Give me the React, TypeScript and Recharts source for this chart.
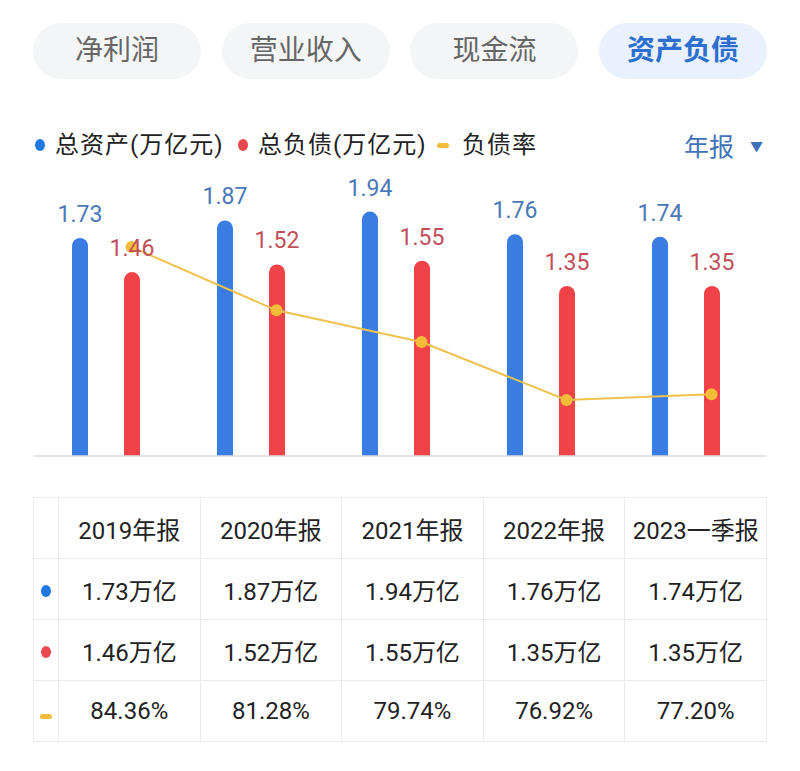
import { ComposedChart, Bar, Line, XAxis, YAxis, LabelList } from 'recharts'

const tabs = ['净利润', '营业收入', '现金流', '资产负债']
const periods = ['2019年报', '2020年报', '2021年报', '2022年报', '2023一季报']
const totalAssets = [1.73, 1.87, 1.94, 1.76, 1.74]
const totalDebt = [1.46, 1.52, 1.55, 1.35, 1.35]
const debtRatio = [84.36, 81.28, 79.74, 76.92, 77.2]

const BLUE = '#3a7de2'
const RED = '#f04347'
const YELLOW = '#f3bd3a'
const FONT = "Roboto, 'Noto Sans CJK SC', sans-serif"

const data = periods.map((p, i) => ({
  period: p,
  assets: totalAssets[i],
  debt: totalDebt[i],
  ratio: debtRatio[i],
}))

function Marker({ kind }: { kind: 'blue' | 'red' | 'line' }) {
  if (kind === 'line') {
    return <span style={{ display: 'inline-block', width: 12, height: 5, borderRadius: 3, background: YELLOW }} />
  }
  return (
    <span
      style={{
        display: 'inline-block',
        width: 10,
        height: 12,
        borderRadius: '50%',
        background: kind === 'blue' ? '#1f78e0' : '#ea4a4f',
      }}
    />
  )
}

const legendItems: { kind: 'blue' | 'red' | 'line'; text: string; x: number; tx: number }[] = [
  { kind: 'blue', text: '总资产(万亿元)', x: 35, tx: 55 },
  { kind: 'red', text: '总负债(万亿元)', x: 238, tx: 258 },
  { kind: 'line', text: '负债率', x: 437, tx: 462 },
]

export default function App() {
  const cell: React.CSSProperties = {
    border: '1px solid #ebebeb',
    textAlign: 'center',
    fontSize: 24,
    color: '#222',
    height: 60,
    padding: 0,
  }
  return (
    <div style={{ position: 'absolute', left: 0, top: 0, width: 800, height: 771, background: '#fff', fontFamily: FONT }}>
      {/* tabs */}
      {tabs.map((t, i) => {
        const active = i === tabs.length - 1
        return (
          <div
            key={t}
            style={{
              position: 'absolute',
              top: 23,
              left: 33 + i * 188.7,
              width: 168,
              height: 56,
              borderRadius: 28,
              background: active ? '#e9f1fd' : '#f4f5f7',
              color: active ? '#2c6fd1' : '#666',
              fontWeight: active ? 700 : 400,
              fontSize: 28,
              lineHeight: '56px',
              textAlign: 'center',
            }}
          >
            {t}
          </div>
        )
      })}

      {/* legend */}
      {legendItems.map((it) => (
        <div key={it.text}>
          <div style={{ position: 'absolute', top: 128, left: it.x, height: 34, display: 'flex', alignItems: 'center' }}>
            <Marker kind={it.kind} />
          </div>
          <div style={{ position: 'absolute', top: 128, left: it.tx, height: 34, lineHeight: '34px', fontSize: 24, color: '#222', letterSpacing: 1, whiteSpace: 'nowrap' }}>
            {it.text}
          </div>
        </div>
      ))}
      <div style={{ position: 'absolute', top: 128, left: 684, height: 34, display: 'flex', alignItems: 'center', fontSize: 25, color: '#3f72b8' }}>
        年报<span style={{ fontSize: 13, marginLeft: 16 }}>▼</span>
      </div>

      {/* chart */}
      <div style={{ position: 'absolute', left: 0, top: 0 }}>
        <ComposedChart
          width={800}
          height={480}
          data={data}
          margin={{ top: 141, right: 33, bottom: 23, left: 33 }}
          barSize={16}
          barGap={36}
        >
          <XAxis
            dataKey="period"
            height={1}
            tick={false}
            tickLine={false}
            axisLine={{ stroke: '#dcdcdc', strokeWidth: 1.5 }}
            padding={{ left: 0, right: 9 }}
          />
          <XAxis xAxisId="line" dataKey="period" hide padding={{ left: 26, right: -17 }} />
          <YAxis yAxisId="bar" domain={[0, 2.5]} hide width={0} />
          <YAxis yAxisId="ratio" orientation="right" domain={[74.19, 89.52]} hide width={0} />
          <Bar yAxisId="bar" dataKey="assets" fill={BLUE} radius={[8, 8, 0, 0]} isAnimationActive={false}>
            <LabelList dataKey="assets" position="top" offset={16} fill="#4a78b6" fontSize={23} fontFamily={FONT} />
          </Bar>
          <Bar yAxisId="bar" dataKey="debt" fill={RED} radius={[8, 8, 0, 0]} isAnimationActive={false}>
            <LabelList dataKey="debt" position="top" offset={16} fill="#c24f58" fontSize={23} fontFamily={FONT} />
          </Bar>
          <Line
            xAxisId="line"
            yAxisId="ratio"
            dataKey="ratio"
            type="linear"
            stroke="#efc24e"
            strokeWidth={2}
            dot={{ r: 6, fill: YELLOW, stroke: 'none' }}
            isAnimationActive={false}
          />
        </ComposedChart>
      </div>

      {/* table */}
      <table
        style={{
          position: 'absolute',
          top: 497,
          left: 33,
          width: 734,
          borderCollapse: 'collapse',
          tableLayout: 'fixed',
          fontFamily: FONT,
        }}
      >
        <colgroup>
          <col style={{ width: 25 }} />
          {periods.map((p) => (
            <col key={p} />
          ))}
        </colgroup>
        <tbody>
          <tr>
            <td style={cell} />
            {periods.map((p) => (
              <td key={p} style={cell}>{p}</td>
            ))}
          </tr>
          <tr>
            <td style={cell}><Marker kind="blue" /></td>
            {totalAssets.map((v, i) => (
              <td key={i} style={cell}>{v.toFixed(2)}万亿</td>
            ))}
          </tr>
          <tr>
            <td style={cell}><Marker kind="red" /></td>
            {totalDebt.map((v, i) => (
              <td key={i} style={cell}>{v.toFixed(2)}万亿</td>
            ))}
          </tr>
          <tr>
            <td style={cell}><Marker kind="line" /></td>
            {debtRatio.map((v, i) => (
              <td key={i} style={cell}>{v.toFixed(2)}%</td>
            ))}
          </tr>
        </tbody>
      </table>
    </div>
  )
}
